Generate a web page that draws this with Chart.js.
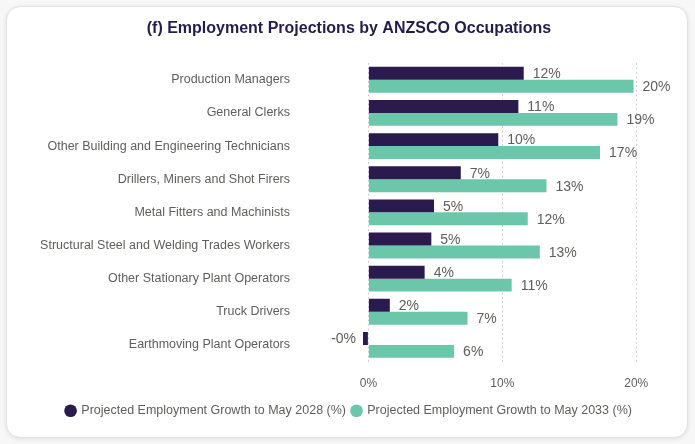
<!DOCTYPE html>
<html lang="en">
<head>
    <meta charset="UTF-8">
    <title>Employment Projections by ANZSCO Occupations</title>
    <script src="https://cdn.jsdelivr.net/npm/chart.js"></script>
    <style>
        html, body { margin: 0; padding: 0; background: #f7f7f7; }
        .card {
            position: absolute; left: 6px; top: 6px; width: 680px; height: 430px;
            background: #fff; border: 1px solid #e2e2e2; border-radius: 14px;
            box-shadow: 0 1px 4px rgba(0,0,0,0.10);
        }
        #chart { position: absolute; left: 0; top: 0; }
    </style>
</head>
<body>
    <div class="card"></div>
    <canvas id="chart" width="695" height="444"></canvas>

    <script>
        const categories = [
            'Production Managers',
            'General Clerks',
            'Other Building and Engineering Technicians',
            'Drillers, Miners and Shot Firers',
            'Metal Fitters and Machinists',
            'Structural Steel and Welding Trades Workers',
            'Other Stationary Plant Operators',
            'Truck Drivers',
            'Earthmoving Plant Operators'
        ];
        const growth2028 = [11.6, 11.2, 9.7, 6.9, 4.9, 4.7, 4.2, 1.6, -0.4];
        const growth2033 = [19.8, 18.6, 17.3, 13.3, 11.9, 12.8, 10.7, 7.4, 6.4];
        const xTicks = [0, 10, 20];

        const labelColor = '#605E5C';
        const fontFamily = '"Liberation Sans", Arial, sans-serif';

        // value labels drawn next to each bar end
        const valueLabels = {
            id: 'valueLabels',
            afterDatasetsDraw(chart) {
                const ctx = chart.ctx;
                ctx.save();
                ctx.font = '14px ' + fontFamily;
                ctx.fillStyle = labelColor;
                ctx.textBaseline = 'middle';
                chart.data.datasets.forEach((ds, i) => {
                    const meta = chart.getDatasetMeta(i);
                    meta.data.forEach((bar, j) => {
                        const v = ds.data[j];
                        const text = v.toFixed(0) + '%';
                        if (v >= 0) {
                            ctx.textAlign = 'left';
                            ctx.fillText(text, bar.x + 9, bar.y + 1);
                        } else {
                            ctx.textAlign = 'right';
                            ctx.fillText(text, bar.x - 7, bar.y + 1);
                        }
                    });
                });
                ctx.restore();
            }
        };

        new Chart(document.getElementById('chart'), {
            type: 'bar',
            data: {
                labels: categories,
                datasets: [{
                    label: 'Projected Employment Growth to May 2028 (%)',
                    data: growth2028,
                    backgroundColor: '#2a1a4e'
                }, {
                    label: 'Projected Employment Growth to May 2033 (%)',
                    data: growth2033,
                    backgroundColor: '#6cc6aa'
                }]
            },
            options: {
                indexAxis: 'y',
                responsive: false,
                animation: false,
                layout: { padding: { left: 35, right: 32, top: 8, bottom: 17 } },
                datasets: {
                    bar: { categoryPercentage: 0.78, barPercentage: 1 }
                },
                scales: {
                    x: {
                        min: -1,
                        max: 22,
                        afterBuildTicks(axis) {
                            axis.ticks = xTicks.map(v => ({ value: v }));
                        },
                        afterFit(axis) { axis.height = 37; },
                        grid: {
                            color: '#c4c4c4',
                            drawTicks: false,
                            borderDash: [1.5, 3],
                            tickBorderDash: [1.5, 3]
                        },
                        border: { display: false, dash: [1.5, 3] },
                        ticks: {
                            padding: 15,
                            color: labelColor,
                            font: { size: 12, family: fontFamily },
                            callback: v => v + '%'
                        }
                    },
                    y: {
                        afterFit(axis) {
                            axis.width = 320;
                            // big label padding must not push the plot down
                            axis.paddingTop = 0;
                            axis.paddingBottom = 0;
                        },
                        grid: { display: false, drawTicks: false },
                        border: { display: false },
                        ticks: {
                            padding: 65,
                            color: labelColor,
                            font: { size: 12.5, family: fontFamily }
                        }
                    }
                },
                plugins: {
                    title: {
                        display: true,
                        text: '(f) Employment Projections by ANZSCO Occupations',
                        color: '#231d4d',
                        font: { size: 16, weight: 'bold', family: fontFamily },
                        padding: { top: 11, bottom: 25 }
                    },
                    legend: {
                        position: 'bottom',
                        labels: {
                            usePointStyle: true,
                            pointStyle: 'circle',
                            boxWidth: 9,
                            boxHeight: 9,
                            padding: 6,
                            color: labelColor,
                            font: { size: 12.5, family: fontFamily }
                        }
                    },
                    tooltip: { enabled: false }
                }
            },
            plugins: [valueLabels]
        });
    </script>
</body>
</html>
